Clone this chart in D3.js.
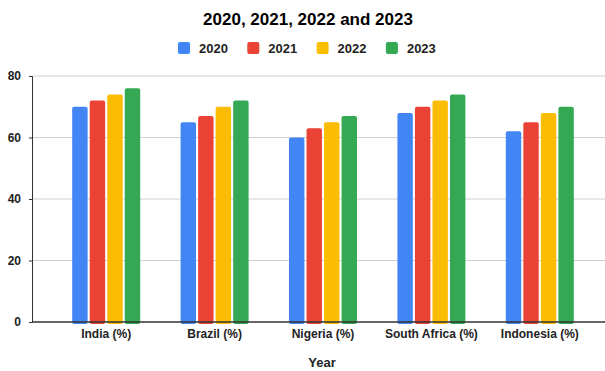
<!DOCTYPE html>
<html>
<head>
<meta charset="utf-8">
<script src="https://cdn.jsdelivr.net/npm/d3@7"></script>
<style>
  body { margin: 0; background: #fff; }
  text { font-family: "Liberation Sans", Arial, sans-serif; }
</style>
</head>
<body>
<div id="viz"></div>
<script>
var countries = ["India (%)", "Brazil (%)", "Nigeria (%)", "South Africa (%)", "Indonesia (%)"];
var years = ["2020", "2021", "2022", "2023"];
var v2020 = [70, 65, 60, 68, 62];
var v2021 = [72, 67, 63, 70, 65];
var v2022 = [74, 70, 65, 72, 68];
var v2023 = [76, 72, 67, 74, 70];
var yTicks = [0, 20, 40, 60, 80];
var colors = ["#4285F4", "#EA4335", "#FBBC04", "#34A853"];

var width = 605, height = 371;
var plotLeft = 32, plotRight = 605, plotTop = 76, plotBottom = 322;

var svg = d3.select("#viz").append("svg")
  .attr("width", width)
  .attr("height", height);

var series = [v2020, v2021, v2022, v2023];
var data = countries.map(function(c, i) {
  return { key: c, values: years.map(function(y, j) { return { year: y, value: series[j][i] }; }) };
});

var y_scale = d3.scaleLinear().domain([0, 80]).range([plotBottom, plotTop]);
var x0 = d3.scaleBand().domain(countries).range([52, 594]).padding(0);
var x1 = d3.scaleBand().domain(years).range([0, 68]).paddingInner(0.12);

// gridlines
svg.append("g").selectAll("line")
  .data(yTicks.filter(function(d) { return d > 0; }))
  .enter().append("line")
  .attr("x1", plotLeft).attr("x2", plotRight)
  .attr("y1", function(d) { return y_scale(d); })
  .attr("y2", function(d) { return y_scale(d); })
  .attr("stroke", "#d0d0d0").attr("stroke-width", 1);

// y axis
var y_axis = d3.axisLeft(y_scale).tickValues(yTicks).tickSize(3).tickPadding(8);
var yg = svg.append("g").attr("transform", "translate(" + plotLeft + ",0)").call(y_axis);
yg.select(".domain").attr("stroke", "#333");
yg.selectAll(".tick line").attr("stroke", "#333");
yg.selectAll("text").attr("font-size", 12).attr("font-weight", "bold").attr("fill", "#222");

// bars
var groups = svg.append("g").selectAll("g")
  .data(data).enter().append("g")
  .attr("transform", function(d) { return "translate(" + (x0(d.key) + (x0.bandwidth() - 68) / 2) + ",0)"; });

groups.selectAll("rect")
  .data(function(d) { return d.values; })
  .enter().append("rect")
  .attr("x", function(d) { return x1(d.year); })
  .attr("y", function(d) { return y_scale(d.value); })
  .attr("width", x1.bandwidth())
  .attr("height", function(d) { return plotBottom - y_scale(d.value) + 2; })
  .attr("rx", 2)
  .attr("fill", function(d, i) { return colors[i]; });

// baseline
svg.append("line")
  .attr("x1", plotLeft).attr("x2", plotRight)
  .attr("y1", plotBottom).attr("y2", plotBottom)
  .attr("stroke", "#333").attr("stroke-width", 1.5);

// x axis labels
var x_axis = d3.axisBottom(x0).tickSize(0).tickPadding(7);
var xg = svg.append("g").attr("transform", "translate(0," + plotBottom + ")").call(x_axis);
xg.select(".domain").remove();
xg.selectAll("text").attr("font-size", 12).attr("font-weight", "bold").attr("fill", "#222");

// title
svg.append("text")
  .attr("x", 308).attr("y", 25)
  .attr("text-anchor", "middle")
  .attr("font-size", 17).attr("font-weight", "bold").attr("fill", "#000")
  .text("2020, 2021, 2022 and 2023");

// legend
var legend = svg.append("g").selectAll("g")
  .data(years).enter().append("g")
  .attr("transform", function(d, i) { return "translate(" + (178 + i * 69.3) + ",42)"; });
legend.append("rect")
  .attr("width", 12).attr("height", 12).attr("rx", 2)
  .attr("fill", function(d, i) { return colors[i]; });
legend.append("text")
  .attr("x", 21).attr("y", 11)
  .attr("font-size", 13).attr("font-weight", "bold").attr("fill", "#222")
  .text(function(d) { return d; });

// x axis title
svg.append("text")
  .attr("x", 322).attr("y", 367)
  .attr("text-anchor", "middle")
  .attr("font-size", 13).attr("font-weight", "bold").attr("fill", "#222")
  .text("Year");
</script>
</body>
</html>
